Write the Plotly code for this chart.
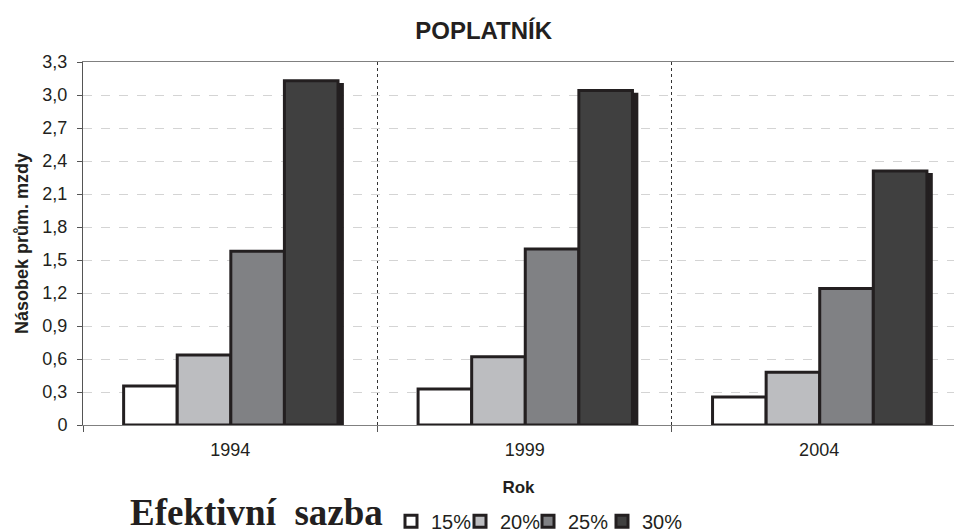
import plotly.graph_objects as go

years = ["1994", "1999", "2004"]
series_names = ["15%", "20%", "25%", "30%"]
values_15 = [0.355, 0.327, 0.255]
values_20 = [0.636, 0.62, 0.48]
values_25 = [1.58, 1.60, 1.24]
values_30 = [3.13, 3.04, 2.31]
y_tick_vals = [0, 0.3, 0.6, 0.9, 1.2, 1.5, 1.8, 2.1, 2.4, 2.7, 3.0, 3.3]
y_tick_text = ["0", "0,3", "0,6", "0,9", "1,2", "1,5", "1,8", "2,1", "2,4", "2,7", "3,0", "3,3"]

all_values = [values_15, values_20, values_25, values_30]
colors = ["#ffffff", "#bcbdc0", "#808184", "#404040"]
outline = "#231f20"
bar_w = 0.182
start = -0.362
legend_ids = ["legend", "legend2", "legend3", "legend4"]
legend_left_px = [391, 460, 528, 602]

fig = go.Figure()

# shadows
for i, vals in enumerate(all_values):
    fig.add_trace(go.Bar(
        x=years, y=vals, base=-0.02, width=bar_w, offset=start + i * bar_w + 0.02,
        marker=dict(color=outline, line=dict(width=0)), showlegend=False, hoverinfo="skip"))

for i, vals in enumerate(all_values):
    fig.add_trace(go.Bar(
        x=years, y=vals, name=series_names[i], width=bar_w, offset=start + i * bar_w,
        legend=legend_ids[i],
        marker=dict(color=colors[i], line=dict(color=outline, width=3))))

legend_style = dict(orientation="h", xanchor="left", yref="container", y=0.02, yanchor="middle",
                    font=dict(size=20, color=outline), itemwidth=30,
                    bgcolor="rgba(0,0,0,0)")

fig.update_layout(
    width=954, height=532,
    barmode="overlay",
    plot_bgcolor="white", paper_bgcolor="white",
    margin=dict(l=83, r=0, t=62, b=107, autoexpand=False),
    font=dict(family="Arial, Liberation Sans, sans-serif", color=outline, size=17),
    title=dict(text="<b>POPLATNÍK</b>", x=0.507, xanchor="center", y=0.943, yanchor="middle",
               font=dict(size=24, color=outline)),
    showlegend=True,
    xaxis=dict(
        type="category", range=[-0.5, 2.458], automargin=False,
        showline=True, linecolor="#808080", linewidth=1, mirror=True,
        ticks="outside", tickson="boundaries", ticklen=6, tickcolor="#555555",
        showgrid=True, gridcolor="#333333", griddash="dot", gridwidth=1,
        tickfont=dict(size=18, color=outline), ticklabelstandoff=8,
        title=dict(text="<b>Rok</b>", font=dict(size=17, color=outline), standoff=22),
    ),
    yaxis=dict(
        range=[0, 3.3], tickvals=y_tick_vals, ticktext=y_tick_text, automargin=False,
        showline=True, linecolor="#555555", linewidth=1,
        ticks="outside", ticklen=5, tickcolor="#555555",
        showgrid=True, gridcolor="#d4d4d4", griddash="dash", gridwidth=1,
        zeroline=False,
        tickfont=dict(size=18, color=outline), ticklabelstandoff=6,
        title=dict(text="<b>Násobek prům. mzdy</b>", font=dict(size=18, color=outline), standoff=9),
    ),
    annotations=[dict(
        text="<b>Efektivní  sazba</b>", xref="paper", yref="paper",
        x=(128 - 83) / 871, y=-0.24, xanchor="left", yanchor="middle", showarrow=False,
        font=dict(family="Liberation Serif, Times New Roman, serif", size=37, color=outline))],
)

for lid, left in zip(legend_ids, legend_left_px):
    fig.update_layout({lid: dict(legend_style, x=(left - 83) / 871)})

fig.write_html("out.html", config={"displayModeBar": False},
               post_script="document.body.style.margin='0';")
